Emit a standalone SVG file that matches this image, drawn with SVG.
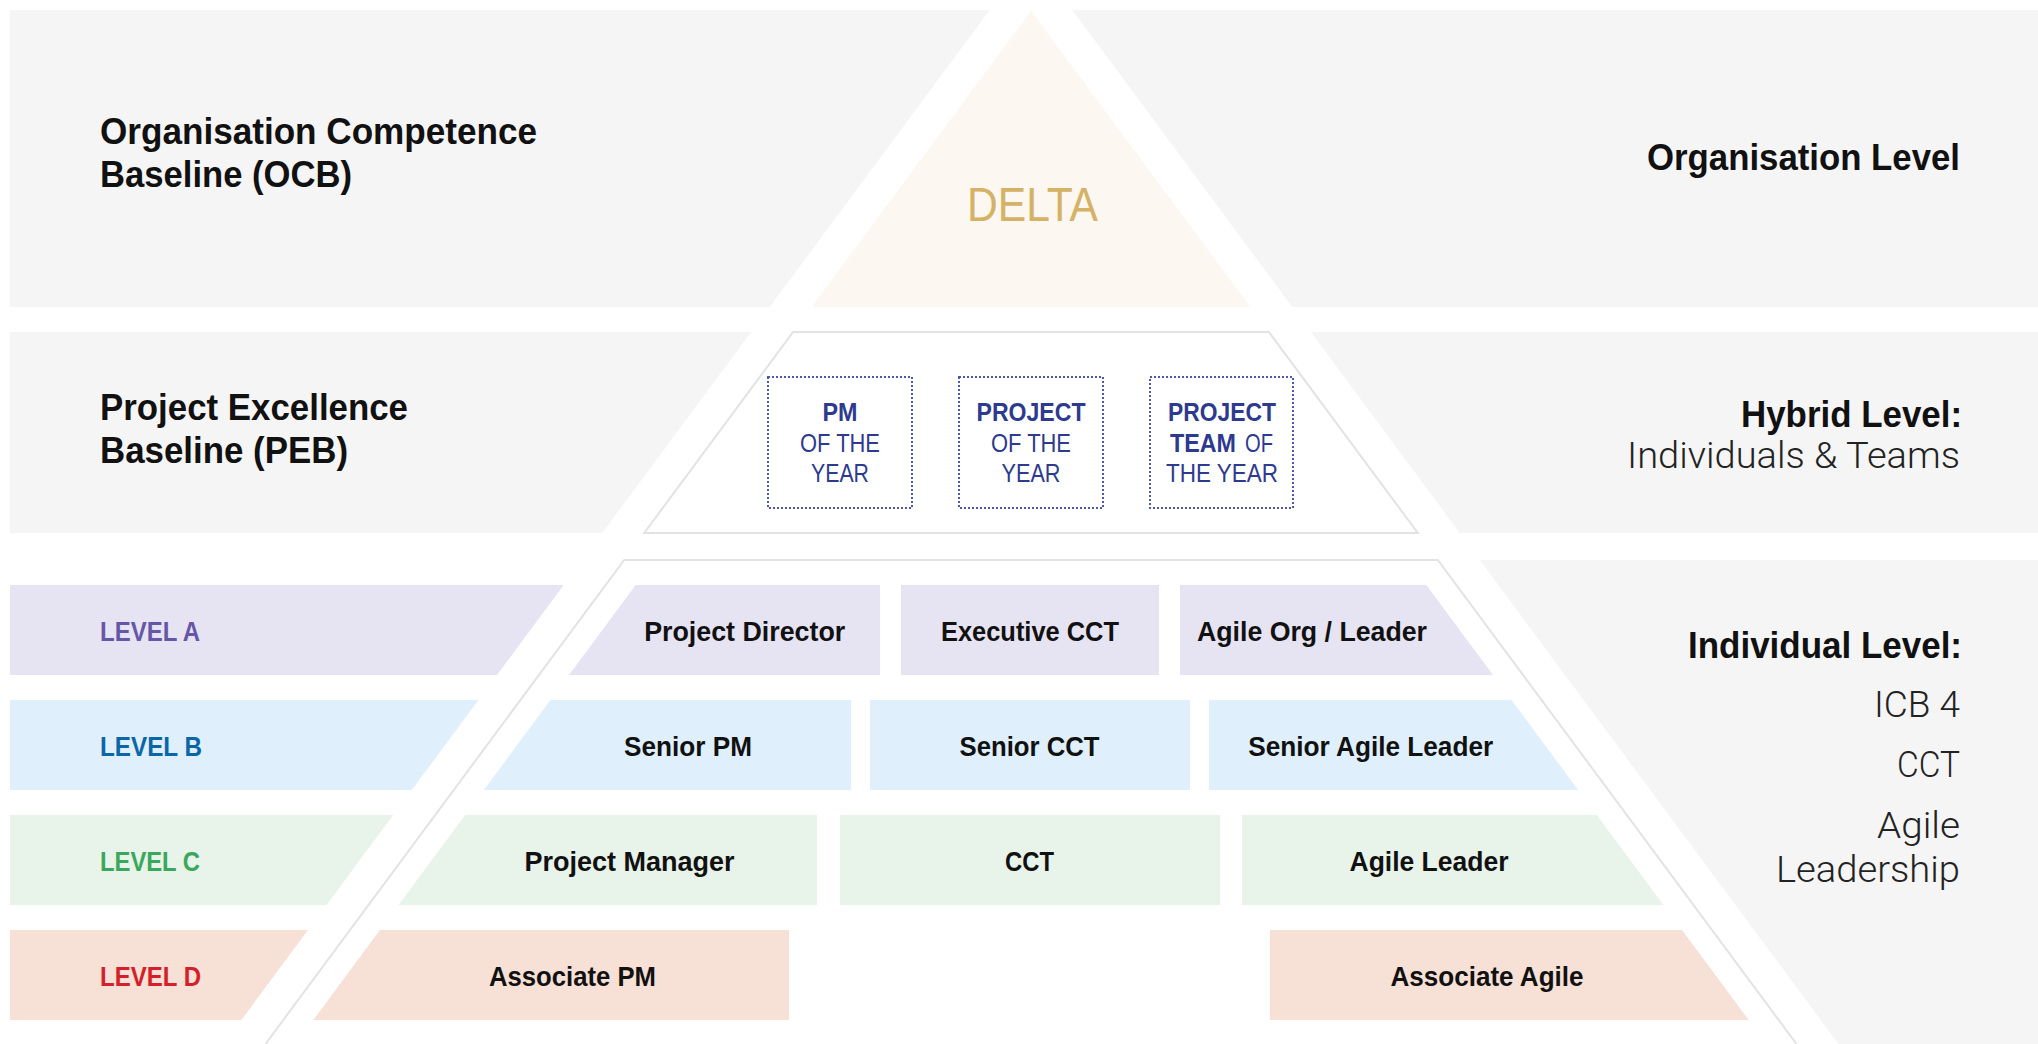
<svg xmlns="http://www.w3.org/2000/svg" width="2038" height="1044" viewBox="0 0 2038 1044">
<defs>
<style>
.band{fill:#f5f5f5}
.outline{fill:none;stroke:#e3e3e3;stroke-width:2}
.lvA{fill:#e6e3f3}.lvB{fill:#dff0fc}.lvC{fill:#e8f3ea}.lvD{fill:#f7e0d6}
.head{font-family:"Liberation Sans",Arial,sans-serif;font-weight:700;font-size:36px;fill:#111}
.light{font-family:Roboto,"Liberation Sans",sans-serif;font-weight:300;font-size:36px;fill:#222}
.inner{font-family:"Liberation Sans",Arial,sans-serif;font-weight:700;font-size:28px;fill:#111;text-anchor:middle}
.lvl{font-family:"Liberation Sans",Arial,sans-serif;font-weight:700;font-size:28px}
.peb{font-family:"Liberation Sans",Arial,sans-serif;font-size:25px;fill:#2d3a8e;text-anchor:middle}
.dot{fill:none;stroke:#4d58a8;stroke-width:2;stroke-dasharray:2 2}
</style>
</defs>
<rect width="2038" height="1044" fill="#ffffff"/>
<g id="bands">
<polygon class="band" points="10,10 989.7,10 769.7,307 10,307"/>
<polygon class="band" points="1072.3,10 2038,10 2038,307 1292.3,307"/>
<polygon class="band" points="10,332 751.1,332 602.2,533 10,533"/>
<polygon class="band" points="1310.9,332 2038,332 2038,533 1459.8,533"/>
<polygon class="band" points="1479.8,560 2038,560 2038,1044 1838.5,1044"/>
</g>
<g id="connectors">
<polygon class="outline" points="793.1,332 1268.9,332 1417.8,533 644.2,533" fill="#ffffff"/>
<path class="outline" d="M265.5,1044 L624.2,560 L1437.8,560 L1796.5,1044"/>
</g>
<g id="ocb-label">
<text class="head" x="100" y="144" textLength="437" lengthAdjust="spacingAndGlyphs">Organisation Competence</text>
<text class="head" x="100" y="187" textLength="252" lengthAdjust="spacingAndGlyphs">Baseline (OCB)</text>
</g>
<g id="delta">
<polygon points="1031,11 1250.3,307 811.7,307" fill="#fcf7f0"/>
<text x="1032.5" y="221" font-family="Liberation Sans,Arial,sans-serif" font-size="48" fill="#d4b266" text-anchor="middle" textLength="131" lengthAdjust="spacingAndGlyphs">DELTA</text>
</g>
<g id="org-level">
<text class="head" x="1960" y="170" text-anchor="end" textLength="313" lengthAdjust="spacingAndGlyphs">Organisation Level</text>
</g>
<g id="peb-label">
<text class="head" x="100" y="420" textLength="308" lengthAdjust="spacingAndGlyphs">Project Excellence</text>
<text class="head" x="100" y="463" textLength="248" lengthAdjust="spacingAndGlyphs">Baseline (PEB)</text>
</g>
<g id="pm-of-the-year">
<rect class="dot" x="768" y="377" width="144" height="131"/>
<text class="peb" x="840" y="421" font-weight="700" textLength="35" lengthAdjust="spacingAndGlyphs">PM</text>
<text class="peb" x="840" y="452" textLength="80" lengthAdjust="spacingAndGlyphs">OF THE</text>
<text class="peb" x="840" y="482" textLength="58" lengthAdjust="spacingAndGlyphs">YEAR</text>
</g>
<g id="project-of-the-year">
<rect class="dot" x="959" y="377" width="144" height="131"/>
<text class="peb" x="1031" y="421" font-weight="700" textLength="109" lengthAdjust="spacingAndGlyphs">PROJECT</text>
<text class="peb" x="1031" y="452" textLength="80" lengthAdjust="spacingAndGlyphs">OF THE</text>
<text class="peb" x="1031" y="482" textLength="59" lengthAdjust="spacingAndGlyphs">YEAR</text>
</g>
<g id="project-team-of-the-year">
<rect class="dot" x="1150" y="377" width="143" height="131"/>
<text class="peb" x="1222" y="421" font-weight="700" textLength="108" lengthAdjust="spacingAndGlyphs">PROJECT</text>
<text class="peb" x="1170" y="452" style="text-anchor:start" font-weight="700" textLength="66" lengthAdjust="spacingAndGlyphs">TEAM</text>
<text class="peb" x="1245" y="452" style="text-anchor:start" textLength="28" lengthAdjust="spacingAndGlyphs">OF</text>
<text class="peb" x="1222" y="482" textLength="112" lengthAdjust="spacingAndGlyphs">THE YEAR</text>
</g>
<g id="hybrid-level">
<text class="head" x="1962" y="427" text-anchor="end" textLength="221" lengthAdjust="spacingAndGlyphs">Hybrid Level:</text>
<text class="light" x="1960" y="468" text-anchor="end" textLength="333" lengthAdjust="spacingAndGlyphs">Individuals &amp; Teams</text>
</g>
<g id="individual-level">
<text class="head" x="1962" y="658" text-anchor="end" textLength="274" lengthAdjust="spacingAndGlyphs">Individual Level:</text>
<text class="light" x="1960" y="717" text-anchor="end" textLength="86" lengthAdjust="spacingAndGlyphs">ICB 4</text>
<text class="light" x="1960" y="777" text-anchor="end" textLength="63" lengthAdjust="spacingAndGlyphs">CCT</text>
<text class="light" x="1960" y="838" text-anchor="end" textLength="83" lengthAdjust="spacingAndGlyphs">Agile</text>
<text class="light" x="1960" y="882" text-anchor="end" textLength="184" lengthAdjust="spacingAndGlyphs">Leadership</text>
</g>
<g id="level-a">
<polygon class="lvA" points="10,585 563.7,585 497,675 10,675"/>
<text class="lvl" x="100" y="641" fill="#6656a6" textLength="100" lengthAdjust="spacingAndGlyphs">LEVEL A</text>
</g>
<g id="project-director">
<polygon class="lvA" points="635.7,585 880,585 880,675 569,675"/>
<text class="inner" x="744.7" y="641" textLength="201" lengthAdjust="spacingAndGlyphs">Project Director</text>
</g>
<g id="executive-cct">
<rect class="lvA" x="901" y="585" width="258" height="90"/>
<text class="inner" x="1030" y="641" textLength="178" lengthAdjust="spacingAndGlyphs">Executive CCT</text>
</g>
<g id="agile-org-leader">
<polygon class="lvA" points="1180,585 1426.3,585 1493,675 1180,675"/>
<text class="inner" x="1312" y="641" textLength="230" lengthAdjust="spacingAndGlyphs">Agile Org / Leader</text>
</g>
<g id="level-b">
<polygon class="lvB" points="10,700 478.5,700 411.8,790 10,790"/>
<text class="lvl" x="100" y="756" fill="#0b66a8" textLength="102" lengthAdjust="spacingAndGlyphs">LEVEL B</text>
</g>
<g id="senior-pm">
<polygon class="lvB" points="550.5,700 851,700 851,790 483.8,790"/>
<text class="inner" x="688" y="756" textLength="128" lengthAdjust="spacingAndGlyphs">Senior PM</text>
</g>
<g id="senior-cct">
<rect class="lvB" x="870" y="700" width="320" height="90"/>
<text class="inner" x="1029.5" y="756" textLength="140" lengthAdjust="spacingAndGlyphs">Senior CCT</text>
</g>
<g id="senior-agile-leader">
<polygon class="lvB" points="1209,700 1511.5,700 1578.2,790 1209,790"/>
<text class="inner" x="1370.7" y="756" textLength="245" lengthAdjust="spacingAndGlyphs">Senior Agile Leader</text>
</g>
<g id="level-c">
<polygon class="lvC" points="10,815 393.2,815 326.5,905 10,905"/>
<text class="lvl" x="100" y="871" fill="#3aa85c" textLength="100" lengthAdjust="spacingAndGlyphs">LEVEL C</text>
</g>
<g id="project-manager">
<polygon class="lvC" points="465.2,815 817,815 817,905 398.5,905"/>
<text class="inner" x="629.6" y="871" textLength="210" lengthAdjust="spacingAndGlyphs">Project Manager</text>
</g>
<g id="cct">
<rect class="lvC" x="840" y="815" width="380" height="90"/>
<text class="inner" x="1029.5" y="871" textLength="49" lengthAdjust="spacingAndGlyphs">CCT</text>
</g>
<g id="agile-leader">
<polygon class="lvC" points="1242,815 1596.8,815 1663.5,905 1242,905"/>
<text class="inner" x="1429" y="871" textLength="159" lengthAdjust="spacingAndGlyphs">Agile Leader</text>
</g>
<g id="level-d">
<polygon class="lvD" points="10,930 308,930 241.3,1020 10,1020"/>
<text class="lvl" x="100" y="986" fill="#d3202a" textLength="101" lengthAdjust="spacingAndGlyphs">LEVEL D</text>
</g>
<g id="associate-pm">
<polygon class="lvD" points="380,930 789,930 789,1020 313.3,1020"/>
<text class="inner" x="572.5" y="986" textLength="167" lengthAdjust="spacingAndGlyphs">Associate PM</text>
</g>
<g id="associate-agile">
<polygon class="lvD" points="1270,930 1682,930 1748.7,1020 1270,1020"/>
<text class="inner" x="1487" y="986" textLength="193" lengthAdjust="spacingAndGlyphs">Associate Agile</text>
</g>
</svg>
